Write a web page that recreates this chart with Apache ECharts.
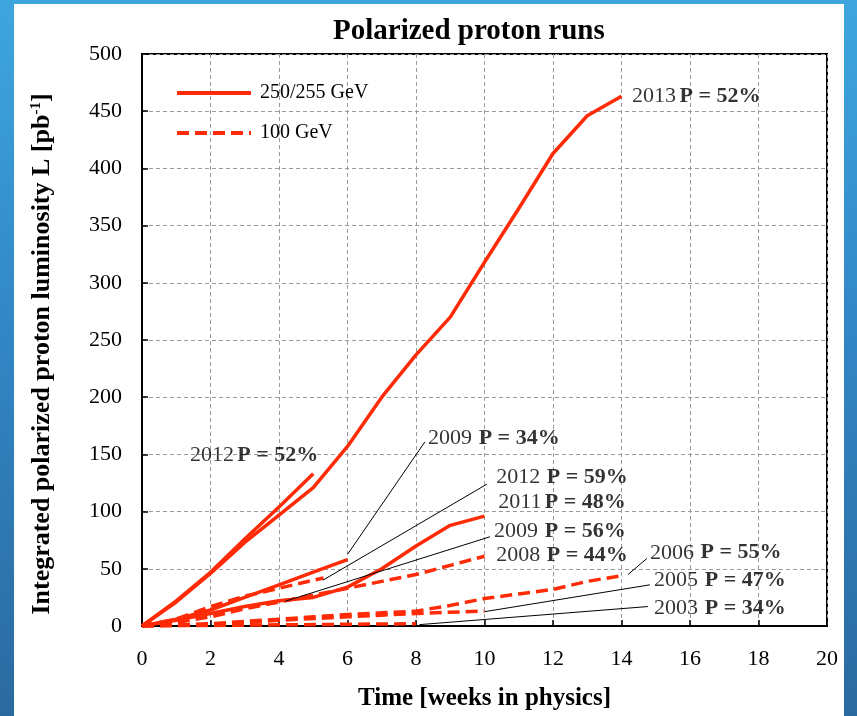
<!DOCTYPE html>
<html>
<head>
<meta charset="utf-8">
<script src="https://cdn.jsdelivr.net/npm/echarts@6/dist/echarts.min.js"></script>
<style>
  html, body { margin: 0; padding: 0; }
  body {
    width: 857px; height: 716px; overflow: hidden; position: relative;
    background: linear-gradient(180deg, #3ea6de 0%, #3287c6 45%, #2b6aa0 100%);
  }
  #panel { position: absolute; left: 14px; top: 4px; width: 830px; height: 712px; background: #fff; }
  #chart { position: absolute; left: 0; top: 0; width: 857px; height: 716px; }
</style>
</head>
<body>
<div id="panel"></div>
<div id="chart"></div>
<script>
// Integrated luminosity [pb^-1] versus weeks in physics, one array per run.
// 250/255 GeV runs (solid)
const run2013_255 = [[0,0],[1,21],[2,46],[3,73],[4,97],[5,121],[6,157],[7,200],[8,237],[9,270],[10,318],[11,365],[12,413],[13,446],[14,463]];
const run2012_255 = [[0,0],[1,22],[2,47],[3,76],[4,104],[5,133]];
const run2009_250 = [[0,0],[1,6],[2,14],[3,25],[4,36],[5,47],[6,58]];
const run2011_250 = [[0,0],[1,5],[2,11],[3,17],[4,22],[5,25],[6,34],[7,50],[8,70],[9,88],[10,96]];
// 100 GeV runs (dashed)
const run2012_100 = [[0,0],[1,6],[2,17],[3,26],[4,33],[5,40],[5.3,42]];
const run2008_100 = [[0,0],[1,3],[2,8],[3,15],[4,21],[5,27],[6,33],[7,39],[8,45],[9,53],[10,61]];
const run2006_100 = [[0,0],[1,1],[2,2],[3,4],[4,6],[5,8],[6,10],[7,11.5],[8,13],[9,18],[10,24],[11,28],[12,32],[13,39],[14,44]];
const run2005_100 = [[0,0],[1,0.5],[2,1.5],[3,3],[4,5],[5,6.5],[6,8],[7,9.5],[8,11],[9,12],[10,13]];
const run2003_100 = [[0,0],[2,0.5],[4,1],[6,1.5],[8,2]];

const xTicks = [0,2,4,6,8,10,12,14,16,18,20];
const yTicks = [0,50,100,150,200,250,300,350,400,450,500];

// Run labels: year, polarization, anchor of the text's left edge (weeks, pb^-1)
const runLabels = [
  { year: '2013', pol: 'P = 52%', at: [14.31, 463], gap: ' ' },
  { year: '2012', pol: 'P = 52%', at: [1.40, 149], gap: ' ' },
  { year: '2009', pol: 'P = 34%', at: [8.35, 164], gap: '  ' },
  { year: '2012', pol: 'P = 59%', at: [10.34, 130], gap: '  ' },
  { year: '2011', pol: 'P = 48%', at: [10.40, 108], gap: ' ' },
  { year: '2009', pol: 'P = 56%', at: [10.28, 83], gap: '  ' },
  { year: '2008', pol: 'P = 44%', at: [10.34, 62], gap: '  ' },
  { year: '2006', pol: 'P = 55%', at: [14.83, 64], gap: '  ' },
  { year: '2005', pol: 'P = 47%', at: [14.95, 40], gap: '  ' },
  { year: '2003', pol: 'P = 34%', at: [14.95, 15.5], gap: '  ' }
];

// Leader lines from a label to its curve
const leaders = [
  [[8.26, 161], [6.01, 63]],
  [[10.07, 124], [5.28, 40]],
  [[10.16, 78], [4.18, 21.6]],
  [[14.74, 59], [14.19, 45]],
  [[14.83, 36], [10.0, 12.5]],
  [[14.77, 17], [8.1, 1.2]]
];

const RED = '#ff2a06';
const FONT = '"Liberation Serif", "Times New Roman", serif';
const DASH = [12, 6];

function run(name, data, dashed) {
  return {
    type: 'line', name: name, data: data, showSymbol: false, symbol: 'none',
    silent: true, animation: false,
    lineStyle: { color: RED, width: 3.5, type: dashed ? DASH : 'solid', cap: 'butt', join: 'round' },
    itemStyle: { color: RED },
    z: 3
  };
}

const chart = echarts.init(document.getElementById('chart'), null, { renderer: 'canvas' });

const option = {
  backgroundColor: 'transparent',
  animation: false,
  title: {
    text: 'Polarized proton runs',
    left: 328, top: 12,
    textStyle: { fontFamily: FONT, fontWeight: 'bold', fontSize: 29, color: '#000' }
  },
  legend: {
    orient: 'vertical', left: 170, top: 78,
    itemWidth: 74, itemHeight: 14, itemGap: 20,
    data: ['250/255 GeV', '100 GeV'],
    itemStyle: { opacity: 0 },
    lineStyle: { width: 4 },
    textStyle: { fontFamily: FONT, fontSize: 20, color: '#000', padding: [6, 0, 0, 4] },
    selectedMode: false
  },
  grid: {
    left: 142, right: 30, top: 54, bottom: 83,
    show: true, borderColor: '#000', borderWidth: 2, backgroundColor: 'transparent'
  },
  xAxis: {
    type: 'value', min: 0, max: 20, interval: 2,
    name: 'Time [weeks in physics]', nameLocation: 'middle', nameGap: 60,
    nameTextStyle: { fontFamily: FONT, fontWeight: 'bold', fontSize: 25, color: '#000' },
    axisLine: { show: true, lineStyle: { color: '#000', width: 2 } },
    axisTick: { show: true, inside: true, length: 6, lineStyle: { color: '#000', width: 1.5 } },
    axisLabel: { margin: 22, fontFamily: FONT, fontSize: 22, color: '#000',
                 formatter: v => xTicks.includes(v) ? String(v) : '' },
    splitLine: { show: true, lineStyle: { color: '#9a9a9a', width: 1, type: [4, 3] } }
  },
  yAxis: {
    type: 'value', min: 0, max: 500, interval: 50,
    name: 'Integrated polarized proton luminosity L [pb{sup|-1}]',
    nameLocation: 'middle', nameGap: 86, nameRotate: 90,
    nameTextStyle: {
      fontFamily: FONT, fontWeight: 'bold', fontSize: 26, color: '#000',
      padding: [0, 28, 0, 0],
      rich: { sup: { fontFamily: FONT, fontWeight: 'bold', fontSize: 15, color: '#000', verticalAlign: 'top', padding: [0, 0, 12, 0] } }
    },
    axisLine: { show: true, lineStyle: { color: '#000', width: 2 } },
    axisTick: { show: true, inside: true, length: 6, lineStyle: { color: '#000', width: 1.5 } },
    axisLabel: { margin: 20, fontFamily: FONT, fontSize: 22, color: '#000',
                 formatter: v => yTicks.includes(v) ? String(v) : '' },
    splitLine: { show: true, lineStyle: { color: '#9a9a9a', width: 1, type: [4, 3] } }
  },
  series: [
    run('250/255 GeV', [], false),
    run('100 GeV', [], true),
    run('2013', run2013_255, false),
    run('2012 255', run2012_255, false),
    run('2009 250', run2009_250, false),
    run('2011', run2011_250, false),
    run('2012 100', run2012_100, true),
    run('2008', run2008_100, true),
    run('2006', run2006_100, true),
    run('2005', run2005_100, true),
    run('2003', run2003_100, true),
    {
      type: 'scatter', name: 'labels', silent: true, symbolSize: 0, z: 5,
      data: runLabels.map(r => ({
        value: r.at,
        label: {
          show: true, position: 'right', distance: 0,
          formatter: '{y|' + r.year + '}' + r.gap + '{p|' + r.pol + '}',
          rich: {
            y: { fontFamily: FONT, fontSize: 22, color: '#000' },
            p: { fontFamily: FONT, fontSize: 22, fontWeight: 'bold', color: '#000' }
          }
        }
      })),
      markLine: {
        silent: true, symbol: ['none', 'none'], animation: false,
        label: { show: false },
        lineStyle: { color: '#000', width: 1, type: 'solid' },
        data: leaders.map(l => [{ coord: l[0] }, { coord: l[1] }])
      }
    }
  ]
};

chart.setOption(option);
</script>
</body>
</html>
